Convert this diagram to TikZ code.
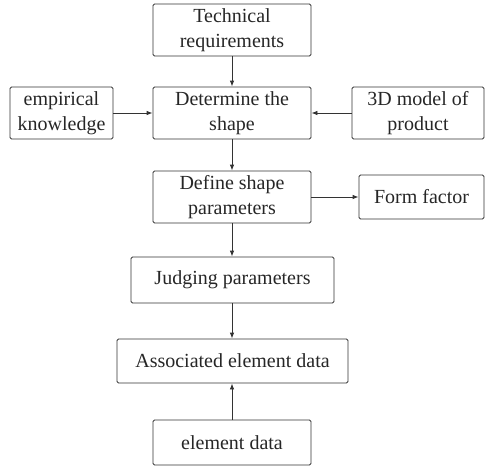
\documentclass[tikz,border=0pt]{standalone}
\usepackage{fontspec}
\setmainfont{Liberation Serif}
\usetikzlibrary{arrows.meta}

\begin{document}
\begin{tikzpicture}[
  x=1pt, y=-1pt,
  every node/.style={inner sep=1pt},
  blk/.style={draw=black!80, rounded corners=1.5pt, line width=0.8pt,
              align=center, text=black!85, font=\fontsize{20}{25}\selectfont},
  wide/.style={blk, minimum width=158pt, minimum height=52pt},
  flow/.style={-{Latex[length=6pt,width=4.5pt]}, draw=black!80, line width=0.8pt},
]
  \useasboundingbox (0,0) rectangle (486,466);
  \node[wide] (tech) at (232,30) {Technical\\requirements};
  \node[blk, minimum width=103pt, minimum height=52pt] (emp) at (61.5,113) {empirical\\knowledge};
  \node[wide] (det) at (232,113) {Determine the\\shape};
  \node[blk, minimum width=132pt, minimum height=52pt] (model) at (418,113) {3D model of\\product};
  \node[wide] (def) at (232,197) {Define shape\\parameters};
  \node[blk, minimum width=125pt, minimum height=44pt] (form) at (421.5,197) {Form factor};
  \node[blk, minimum width=203pt, minimum height=46pt] (judge) at (232.5,280) {Judging parameters};
  \node[blk, minimum width=231pt, minimum height=44pt] (assoc) at (232.5,361) {Associated element data};
  \node[wide, minimum height=45pt] (elem) at (232,442.5) {element data};
  \draw[flow] (tech) -- (det);
  \draw[flow] (emp) -- (det);
  \draw[flow] (model) -- (det);
  \draw[flow] (det) -- (def);
  \draw[flow] (def) -- (form);
  \draw[flow] (def) -- (def |- judge.north);
  \draw[flow] (judge.south -| def) -- (def |- assoc.north);
  \draw[flow] (elem) -- (elem |- assoc.south);
\end{tikzpicture}
\end{document}
